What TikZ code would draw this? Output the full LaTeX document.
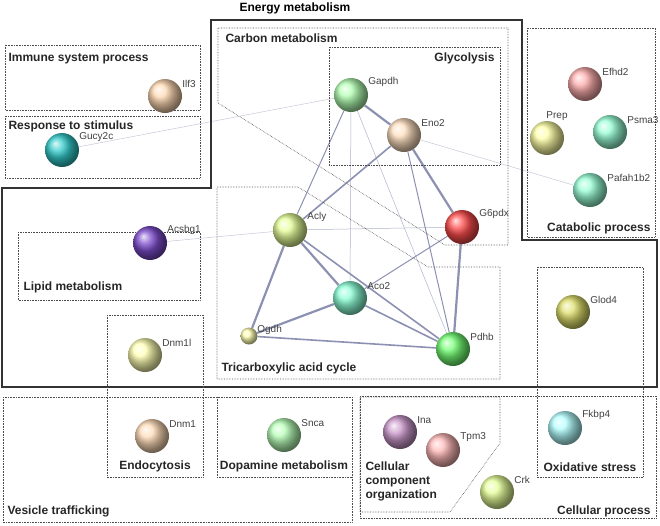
\documentclass[tikz,border=0pt]{standalone}
\usepackage{fontspec}
\setmainfont{Liberation Sans}
\usetikzlibrary{positioning}

\definecolor{edgecol}{RGB}{140,145,178}
\pgfdeclarelayer{links}
\pgfsetlayers{links,main}

\tikzset{
  prot/.style={circle, minimum size=34pt, inner sep=0pt, ball color=#1},
  plab/.style={font=\fontsize{10}{11}\selectfont, text=black!75},
  grp/.style={draw=black!70, densely dotted, line width=0.6pt},
  gtxt/.style={font=\fontsize{12}{14}\selectfont\bfseries, text=black!85},
  lnk/.style={draw=edgecol, line width=#1},
}

\begin{document}
\begin{tikzpicture}[x=1pt, y=-1pt]
        \useasboundingbox (0,0) rectangle (660,525);

        % energy metabolism frame
        \draw[line width=1.3pt, black!80] (211,20) -- (522,20) -- (522,240) -- (657,240) -- (657,387)
            -- (2,387) -- (2,188) -- (211,188) -- cycle;
        \node[font=\fontsize{12}{14}\selectfont\bfseries] (tEnergy) at (295,8) {Energy metabolism};

        % groups
        \draw[grp] (5,45) rectangle (200,110);
        \draw[grp] (5,116) rectangle (200,178);
        \draw[grp] (218,28) -- (508,28) -- (508,245) -- (445,245) -- (218,103) -- cycle;
        \draw[grp] (329,47) rectangle (500,165);
        \draw[grp] (527,28) rectangle (655,237);
        \draw[grp] (18,232) rectangle (200,300);
        \draw[grp] (217,187) -- (298,187) -- (428,267) -- (500,267) -- (500,379) -- (217,379) -- cycle;
        \draw[grp] (537,267) rectangle (643,477);
        \draw[grp] (3,397) rectangle (352,522);
        \draw[grp] (107,315) rectangle (203,477);
        \draw[grp] (217,397) rectangle (352,477);
        \draw[grp] (360,396) rectangle (656,518);
        \draw[grp] (360,397) -- (500,397) -- (500,443) -- (450,512) -- (360,512) -- cycle;

        \node[gtxt, anchor=west] (gImmune) at (5,59) {Immune system process};
        \node[gtxt, anchor=west] (gResp) at (5,126) {Response to stimulus};
        \node[gtxt, anchor=west] (gCarbon) at (222,38) {Carbon metabolism};
        \node[gtxt, anchor=east] (gGlyc) at (498,58) {Glycolysis};
        \node[gtxt, anchor=east] (gCatab) at (654,228) {Catabolic process};
        \node[gtxt, anchor=west] (gLipid) at (20,287) {Lipid metabolism};
        \node[gtxt, anchor=west] (gTca) at (218,368) {Tricarboxylic acid cycle};
        \node[gtxt] (gEndo) at (155,466) {Endocytosis};
        \node[gtxt] (gDopa) at (284,466) {Dopamine metabolism};
        \node[gtxt, anchor=west] (gVes) at (4,511) {Vesicle trafficking};
        \node[gtxt, anchor=west, align=left] (gCco) at (362,481) {Cellular\\component\\organization};
        \node[gtxt] (gOxi) at (590,467) {Oxidative stress};
        \node[gtxt, anchor=east] (gCell) at (654,511) {Cellular process};

        % proteins
        \node[prot=orange!30] (Ilf3) at (165,96) {};
        \node[prot=cyan!50!teal!80] (Gucy2c) at (62,150) {};
        \node[prot=green!30] (Gapdh) at (351,95) {};
        \node[prot=orange!25] (Eno2) at (404,135) {};
        \node[prot=red!70] (G6pdx) at (462,227) {};
        \node[prot=green!25!yellow!40] (Acly) at (290,230) {};
        \node[prot=blue!45!violet!70] (Acsbg1) at (150,243) {};
        \node[prot=green!35!cyan!45] (Aco2) at (350,298) {};
        \node[prot=yellow!30, minimum size=17pt] (Ogdh) at (249,336) {};
        \node[prot=green!55] (Pdhb) at (453,349) {};
        \node[prot=yellow!45!olive!45] (Glod4) at (573,312) {};
        \node[prot=cyan!30] (Fkbp4) at (565,428) {};
        \node[prot=violet!40] (Ina) at (400,432) {};
        \node[prot=red!28] (Tpm3) at (443,450) {};
        \node[prot=green!25!yellow!40] (Crk) at (497,492) {};
        \node[prot=yellow!30] (Dnm1l) at (145,355) {};
        \node[prot=orange!28] (Dnm1) at (152,436) {};
        \node[prot=green!28] (Snca) at (284,435) {};
        \node[prot=red!32] (Efhd2) at (585,84) {};
        \node[prot=yellow!35] (Prep) at (547,138) {};
        \node[prot=green!40!cyan!40] (Psma3) at (610,132) {};
        \node[prot=green!40!cyan!40] (Pafah1b2) at (590,190) {};

        \foreach \p in {Ilf3, Gucy2c, Gapdh, Eno2, G6pdx, Acly, Acsbg1, Aco2, Pdhb, Glod4, Fkbp4,
                        Ina, Tpm3, Crk, Dnm1l, Dnm1, Snca, Efhd2, Psma3, Pafah1b2}
          \node[plab, anchor=south west, inner sep=1pt] (l\p) at ([xshift=4pt,yshift=-5pt]\p.north east) {\p};
        \node[plab, anchor=south west, inner sep=1pt] (lOgdh) at ([xshift=1pt,yshift=-6pt]Ogdh.north east) {Ogdh};
        \node[plab, anchor=south, inner sep=1pt] (lPrep) at ([xshift=10pt,yshift=-1pt]Prep.north) {Prep};

        % links
        \begin{pgfonlayer}{links}
        \path[lnk=0.5pt, edgecol!50] (Gapdh) edge (Gucy2c) (Acly) edge (Acsbg1) (Eno2) edge (Pafah1b2);
        \path[lnk=0.5pt, edgecol!70] (Gapdh) edge (Aco2) (Gapdh) edge (Pdhb) (Acly) edge (G6pdx);
        \path[lnk=1pt] (Gapdh) edge (Acly) (Eno2) edge (Pdhb) (Aco2) edge (G6pdx);
        \path[lnk=1.6pt] (Eno2) edge (Acly) (Acly) edge (Pdhb) (Aco2) edge (Pdhb) (Ogdh) edge (Pdhb);
        \path[lnk=2.2pt] (Gapdh) edge (Eno2) (Eno2) edge (G6pdx) (G6pdx) edge (Pdhb)
                         (Acly) edge (Ogdh) (Acly) edge (Aco2) (Aco2) edge (Ogdh);
        \end{pgfonlayer}
\end{tikzpicture}
\end{document}
